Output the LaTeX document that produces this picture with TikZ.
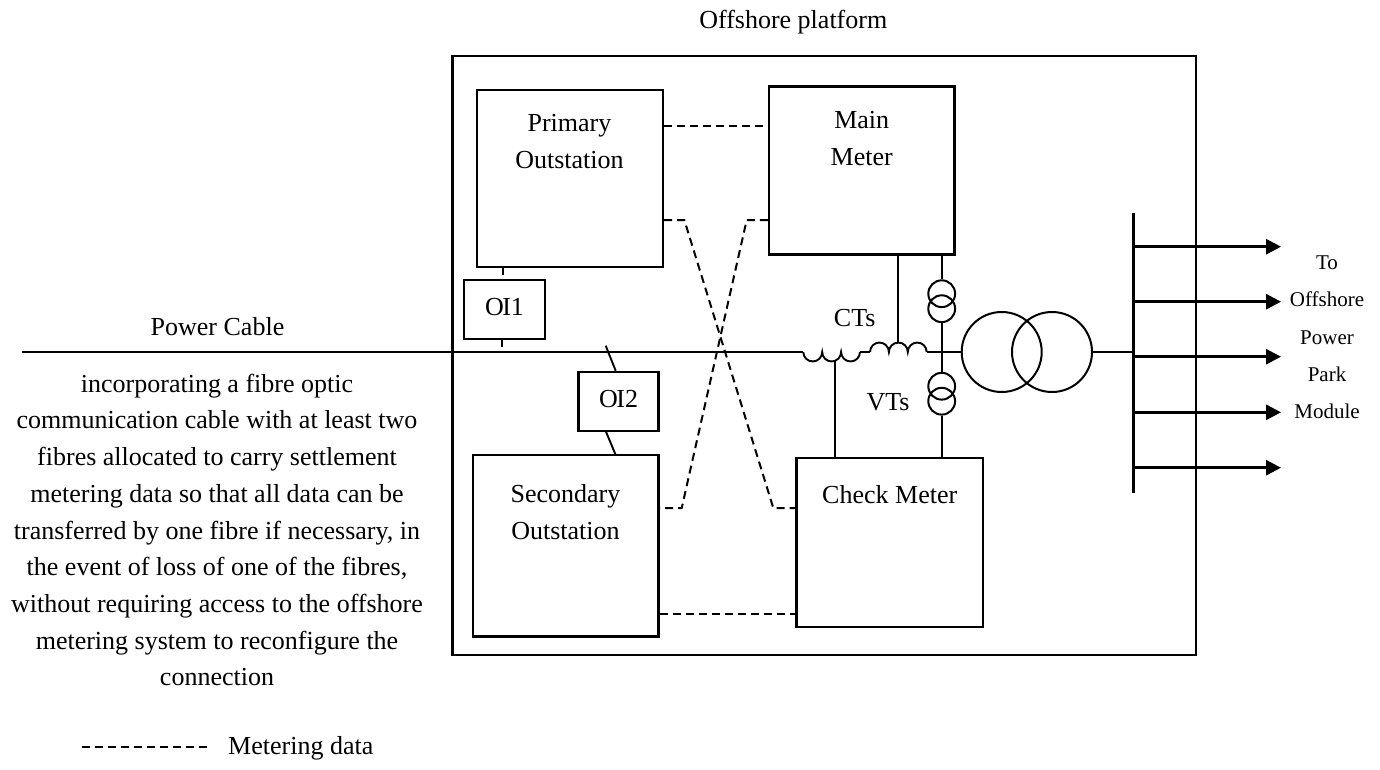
\documentclass[tikz,border=0pt]{standalone}
\usepackage{fontspec}
\setmainfont{Liberation Serif}
\usetikzlibrary{arrows.meta}
\newcommand\mainfs{\fontsize{26pt}{36.7pt}\selectfont}
\newcommand\smallfs{\fontsize{21pt}{37.3pt}\selectfont}
\begin{document}
\begin{tikzpicture}[x=1pt,y=-1pt,
  every node/.style={font=\mainfs, inner sep=0pt},
  boxnode/.style={draw, line width=2.3pt},
  wire/.style={line width=1.9pt},
  dataline/.style={line width=2pt, dash pattern=on 8pt off 5pt},
  busline/.style={line width=2.8pt},
  feeder/.style={line width=2.8pt, -{Triangle[length=15pt,width=15pt]}},
  ring/.style={circle, draw, line width=2pt, inner sep=0pt},
  lbl/.style={align=center}
]
\useasboundingbox (0,0) rectangle (1380,769);

% platform
\node[boxnode, minimum width=743.5pt, minimum height=599pt] (plat) at (824.25,355.5) {};
\node (title) at (793.3,21.7) {Offshore platform};

% boxes
\node[boxnode, minimum width=186pt, minimum height=177pt] (prim) at (570,178.5) {};
\node[boxnode, minimum width=185.5pt, minimum height=168pt] (main) at (861.75,170.6) {};
\node[boxnode, minimum width=81pt, minimum height=59pt] (oi1) at (504.5,309.5) {};
\node[boxnode, minimum width=80pt, minimum height=59pt] (oi2) at (618.6,401.4) {};
\node[boxnode, minimum width=185.6pt, minimum height=181.4pt] (sec) at (565.8,545.7) {};
\node[boxnode, minimum width=186.5pt, minimum height=168.8pt] (chk) at (889.7,542.4) {};

\node[lbl] (primtxt) at (569.5,141.7) {Primary\\Outstation};
\node[lbl] (maintxt) at (861.7,138.7) {Main\\Meter};
\node[lbl] (sectxt) at (565.5,512) {Secondary\\Outstation};
\node (chktxt) at (889.7,495) {Check Meter};
\node (oi1txt) at (504.5,307) {O\kern-1.5pt I1};
\node (oi2txt) at (618.6,399.5) {O\kern-1.5pt I2};
\node (cttxt) at (854.7,318.3) {CTs};
\node (vttxt) at (888,401.7) {VTs};

% power cable
\coordinate (cabL) at (22,352);
\coordinate (c1a) at (803.3,352);
\coordinate (c1b) at (860,352);
\coordinate (c2a) at (870,352);
\coordinate (c2b) at (926.7,352);
\node[ring, minimum size=80pt] (t1) at (1001.7,352) {};
\node[ring, minimum size=80pt] (t2) at (1052,352) {};
\node (cabtxt) at (217.5,327) {Power Cable};
\draw[wire] (cabL) -- (c1a);
\draw[wire] (c1a) arc[start angle=180,end angle=360,radius=9.45pt]
                  arc[start angle=180,end angle=360,radius=9.45pt]
                  arc[start angle=180,end angle=360,radius=9.45pt];
\draw[wire] (c1b) -- (c2a);
\draw[wire] (c2a) arc[start angle=180,end angle=0,radius=9.45pt]
                  arc[start angle=180,end angle=0,radius=9.45pt]
                  arc[start angle=180,end angle=0,radius=9.45pt];
\draw[wire] (c2b) -- (t1.west);

% CT secondary leads
\coordinate (ct2top) at (897.7,342.5);
\coordinate (ct1bot) at (835,361.4);
\draw[wire] (main.south -| ct2top) -- (ct2top);
\draw[wire] (ct1bot) -- (chk.north -| ct1bot);

% VTs
\node[ring, minimum size=26.8pt] (va) at (941.7,293.7) {};
\node[ring, minimum size=26.8pt] (vb) at (941.7,308.7) {};
\node[ring, minimum size=26.8pt] (vc) at (941.7,386.2) {};
\node[ring, minimum size=26.8pt] (vd) at (941.7,401.2) {};
\draw[wire] (main.south -| va) -- (va.north);
\draw[wire] (vb.south) -- (vc.north);
\draw[wire] (vd.south) -- (chk.north -| vd);

% busbar and feeders
\coordinate (busT) at (1133.3,212.7);
\coordinate (busB) at (1133.3,492.7);
\draw[busline] (busT) -- (busB);
\draw[wire] (t2.east) -- (t2.east -| busT);
\foreach \yy [count=\i] in {246.7,301.7,356.7,412.3,467.7} {
  \coordinate (fs\i) at (1133.3,\yy);
  \coordinate (fe\i) at (1281,\yy);
  \draw[feeder] (fs\i) -- (fe\i);
}
\node[lbl, font=\smallfs] (dest) at (1327,337.5) {To\\Offshore\\Power\\Park\\Module};

% OI connections
\coordinate (oi1a) at (503,274.5);
\coordinate (oi1b) at (502,346.5);
\draw[wire] (prim.south -| oi1a) -- (oi1a);
\draw[wire] (oi1.south -| oi1b) -- (oi1b);
\coordinate (oi2a) at (605.7,345.7);
\coordinate (oi2b) at (605.7,431);
\coordinate (oi2c) at (615.7,455);
\draw[wire] (oi2a) -- (oi2.north -| oi2c);
\draw[wire] (oi2b) -- (oi2c);

% metering data links
\draw[dataline] (prim.east |- 0,125.7) -- (main.west |- 0,125.7);
\coordinate (d2a) at (684.3,220);
\coordinate (d2b) at (773.3,508);
\draw[dataline] (prim.east |- d2a) -- (d2a) -- (d2b) -- (chk.west |- d2b);
\coordinate (d3a) at (746.7,220);
\coordinate (d3b) at (681.7,508);
\draw[dataline] (main.west |- d3a) -- (d3a) -- (d3b) -- (sec.east |- d3b);
\draw[dataline] (sec.east |- 0,613.9) -- (chk.west |- 0,613.9);

% cable description
\node[lbl] (desc) at (217,530) {incorporating a fibre optic\\communication cable with at least two\\fibres allocated to carry settlement\\metering data so that all data can be\\transferred by one fibre if necessary, in\\the event of loss of one of the fibres,\\without requiring access to the offshore\\metering system to reconfigure the\\connection};

% legend
\coordinate (legA) at (81.7,746.7);
\coordinate (legB) at (210,746.7);
\draw[line width=1.6pt, dash pattern=on 8pt off 5pt] (legA) -- (legB);
\node[anchor=west] (legtxt) at (228,748) {Metering data};
\end{tikzpicture}
\end{document}
